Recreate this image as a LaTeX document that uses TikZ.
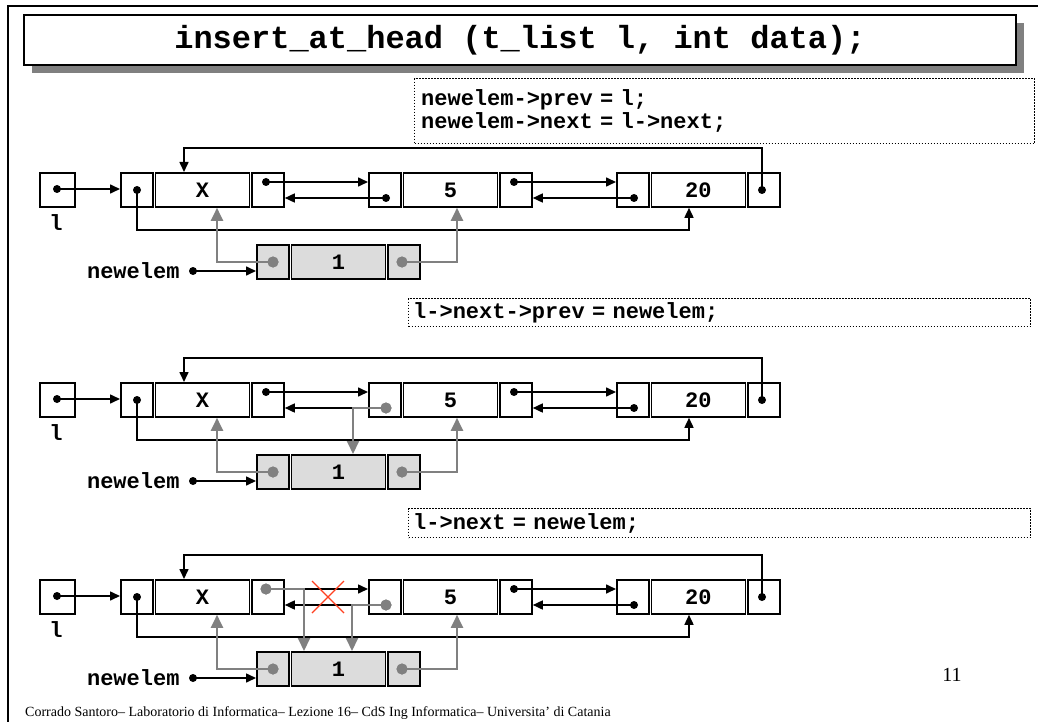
\documentclass[tikz,border=0pt]{standalone}
\usepackage{fontspec}
\setmainfont{Liberation Serif}
\setmonofont{Liberation Mono}
\usetikzlibrary{arrows.meta,calc,shadows}

\definecolor{ptrgrey}{RGB}{128,128,128}
\definecolor{cellfill}{RGB}{220,220,220}
\definecolor{crossred}{RGB}{255,64,32}

\newcommand\codefont{\ttfamily\bfseries\fontsize{22}{23}\selectfont}

\tikzset{
  listcell/.style={draw, line width=1.8pt, inner sep=0pt, minimum height=34pt,
    anchor=north west, font=\codefont},
  ptr/.style={line width=1.6pt, -{Triangle[length=10pt,width=9pt]}},
  newptr/.style={draw=ptrgrey, line width=2pt, ptrgrey,
    -{Triangle[length=13pt,width=12pt]}},
  ptrdot/.style={circle, fill=black, inner sep=0pt, minimum size=8pt},
  newdot/.style={circle, fill=ptrgrey, inner sep=0pt, minimum size=11pt},
  codebox/.style={draw, line width=1.3pt, dash pattern=on 1.3pt off 1.7pt,
    anchor=north west, inner sep=0pt, font=\codefont},
}

% one list element: prev | data | next
% #1 name, #2 left x, #3 top y, #4 data, #5 fill
\newcommand\elem[5]{%
  \node[listcell, minimum width=32pt, fill=#5] (#1p) at (#2,#3) {};
  \node[listcell, minimum width=94pt, fill=#5] (#1d) at (#2+34.5,#3) {#4};
  \node[listcell, minimum width=32pt, fill=#5] (#1n) at (#2+131,#3) {};
}

\begin{document}
\begin{tikzpicture}[x=1pt,y=-1pt]
\useasboundingbox (0,0) rectangle (1038,722);

% slide frame
\draw[line width=1.5pt] (8,722) -- (8,6) -- (1038,6);

% title
\node[draw, line width=2pt, fill=white, anchor=north west,
  minimum width=992pt, minimum height=50pt, inner sep=0pt,
  drop shadow={shadow xshift=8pt, shadow yshift=-8pt, fill=ptrgrey, opacity=1},
  font=\ttfamily\bfseries\fontsize{32}{34}\selectfont] (title) at (23,14)
  {insert\_at\_head (t\_list l, int data);};

% code of each step
\node[codebox, minimum width=620pt, minimum height=65pt, align=left,
  text width=607pt] (code1) at (414,78)
  {newelem->prev = l;\\newelem->next = l->next;};
\node[codebox, minimum width=622pt, minimum height=28pt, align=left,
  text width=613pt] (code2) at (408,298) {l->next->prev = newelem;};
\node[codebox, minimum width=622pt, minimum height=29pt, align=left,
  text width=613pt] (code3) at (408,508) {l->next = newelem;};

\foreach \r/\dy/\xs/\fs in {1/0/ptrdot/ptrdot, 2/210/ptrdot/newdot, 3/407/newdot/newdot} {
  % head pointer l
  \node[listcell, minimum width=35pt] (head\r) at (39,172+\dy) {};
  \node[ptrdot] (headdot\r) at (57,189+\dy) {};
  \node[font=\codefont] (headlab\r) at (56,223+\dy) {l};

  % list X <-> 5 <-> 20
  \elem{x\r}{120}{172+\dy}{X}{white}
  \elem{f\r}{368}{172+\dy}{5}{white}
  \elem{t\r}{616}{172+\dy}{20}{white}
  % new element
  \elem{n\r}{256}{244+\dy}{1}{cellfill}

  \node[ptrdot] (xpd\r) at (137,190+\dy) {};
  \node[\xs] (xnd\r) at (266,182+\dy) {};
  \node[\fs] (fpd\r) at (386,198+\dy) {};
  \node[ptrdot] (fnd\r) at (514,182+\dy) {};
  \node[ptrdot] (tpd\r) at (634,198+\dy) {};
  \node[ptrdot] (tnd\r) at (762,190+\dy) {};
  \node[newdot] (npd\r) at (273,262+\dy) {};
  \node[newdot] (nnd\r) at (402,262+\dy) {};

  \node[font=\codefont, anchor=east] (nlab\r) at (183,271+\dy) {newelem};
  \node[ptrdot] (nldot\r) at (193,271+\dy) {};

  % existing links
  \draw[ptr] (headdot\r.center) -- (x\r p.west |- headdot\r.center);
  \draw[ptr] (xnd\r.center) -- (f\r p.west |- xnd\r.center);
  \draw[ptr] (fpd\r.center) -- (x\r n.east |- fpd\r.center);
  \draw[ptr] (fnd\r.center) -- (t\r p.west |- fnd\r.center);
  \draw[ptr] (tpd\r.center) -- (f\r n.east |- tpd\r.center);
  \draw[ptr] (tnd\r.center) |- ($(x\r d.north west)+(29.5,-24)$)
    -- ($(x\r d.north west)+(29.5,0)$);
  \draw[ptr] (xpd\r.center) |- ($(t\r d.south west)+(38.5,22)$)
    -- ($(t\r d.south west)+(38.5,0)$);
  \draw[ptr] (nldot\r.center) -- (n\r p.west |- nldot\r.center);

  % links of the new element
  \draw[newptr] (npd\r.center) -| ($(x\r d.south west)+(62.5,0)$);
  \draw[newptr] (nnd\r.center) -| ($(f\r d.south west)+(54.5,0)$);
  \node[newdot] at (npd\r) {};
  \node[newdot] at (nnd\r) {};
}

% step 2: l->next->prev = newelem
\draw[newptr] (fpd2.center) -| ($(n2d.north west)+(62.5,0)$);
\node[newdot] at (fpd2) {};

% step 3: l->next = newelem
\draw[newptr] (xnd3.center) -| ($(n3d.north west)+(13.5,0)$);
\draw[newptr] (fpd3.center) -| ($(n3d.north west)+(61.5,0)$);
\node[newdot] at (xnd3) {};
\node[newdot] at (fpd3) {};
\draw[crossred, line width=1.2pt] (312,581) -- (344,613) (312,613) -- (344,581);

% footer
\node[anchor=base west, font=\fontsize{14}{16}\selectfont, inner sep=0pt] (footer)
  at (25,716) {Corrado Santoro– Laboratorio di Informatica– Lezione 16– CdS Ing Informatica– Universita' di Catania};
\node[font=\fontsize{20}{22}\selectfont] (page) at (952,675) {11};
\end{tikzpicture}
\end{document}
